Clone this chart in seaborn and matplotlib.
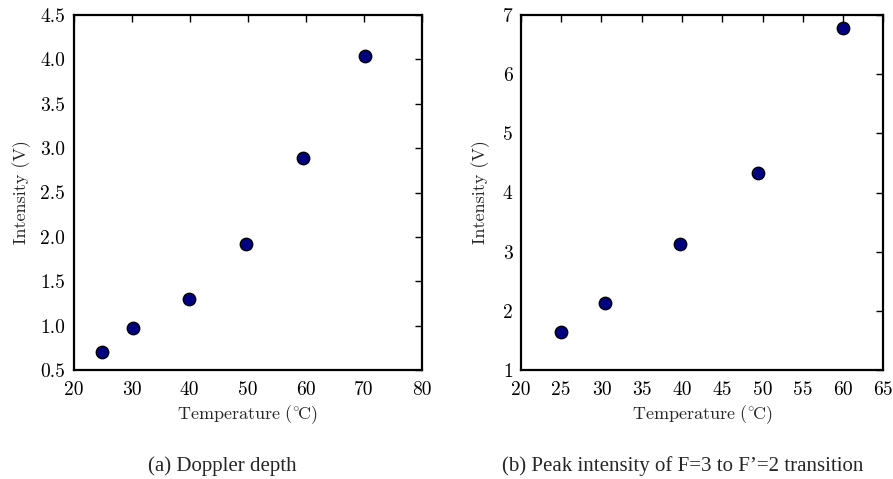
import pandas as pd
import matplotlib
matplotlib.use('Agg')
import matplotlib.pyplot as plt
import seaborn as sns

# data
temp_a = [24.8, 30.3, 39.8, 49.7, 59.6, 70.2]
depth_a = [0.71, 0.98, 1.30, 1.92, 2.89, 4.04]

temp_b = [25.0, 30.4, 39.8, 49.5, 60.0]
peak_b = [1.65, 2.13, 3.13, 4.33, 6.77]

xticks_a = [20, 30, 40, 50, 60, 70, 80]
yticks_a = [0.5, 1.0, 1.5, 2.0, 2.5, 3.0, 3.5, 4.0, 4.5]
xticks_b = [20, 25, 30, 35, 40, 45, 50, 55, 60, 65]
yticks_b = [1, 2, 3, 4, 5, 6, 7]

caption_a = "(a) Doppler depth"
caption_b = "(b) Peak intensity of F=3 to F\u2019=2 transition"

df_a = pd.DataFrame({'temp': temp_a, 'val': depth_a})
df_b = pd.DataFrame({'temp': temp_b, 'val': peak_b})

sns.set_style("white")
plt.rcParams['font.family'] = ['cmr10', 'DejaVu Serif']
plt.rcParams['mathtext.fontset'] = 'cm'
plt.rcParams['axes.formatter.use_mathtext'] = True
plt.rcParams['axes.unicode_minus'] = False

fig = plt.figure(figsize=(8.93, 4.79), dpi=100)
ax1 = fig.add_axes([0.0825, 0.2269, 0.3897, 0.7424])
ax2 = fig.add_axes([0.5834, 0.2269, 0.4057, 0.7424])


def style_axes(ax, xt, yt, ypad):
    ax.set_xticks(xt)
    ax.set_yticks(yt)
    ax.set_xlim(xt[0], xt[-1])
    ax.set_ylim(yt[0], yt[-1])
    ax.set_xticklabels([str(v) for v in xt])
    ax.set_yticklabels([str(v) for v in yt])
    ax.tick_params(direction='in', length=5, width=1, top=True, right=True,
                   labelsize=14, colors='black')
    ax.tick_params(axis='x', pad=8)
    ax.tick_params(axis='y', pad=6)
    for sp in ax.spines.values():
        sp.set_linewidth(1.6)
        sp.set_color('black')
    ax.set_xlabel(r"$\mathrm{Temperature\ (^{\circ}\!C)}$", fontsize=13, labelpad=3)
    ax.set_ylabel("Intensity (V)", fontsize=13, labelpad=ypad)


sns.scatterplot(data=df_a, x='temp', y='val', ax=ax1, s=80, color='#000080',
                edgecolor='black', linewidth=1, zorder=3)
sns.scatterplot(data=df_b, x='temp', y='val', ax=ax2, s=80, color='#000080',
                edgecolor='black', linewidth=1, zorder=3)

style_axes(ax1, xticks_a, yticks_a, 7)
style_axes(ax2, xticks_b, yticks_b, 9)

fig.text(0.2495, 0.027, caption_a, ha='center', va='center', fontsize=15,
         family=['Liberation Serif', 'DejaVu Serif'])
fig.text(0.765, 0.027, caption_b, ha='center', va='center', fontsize=15,
         family=['Liberation Serif', 'DejaVu Serif'])

fig.savefig('out.png', dpi=100)
